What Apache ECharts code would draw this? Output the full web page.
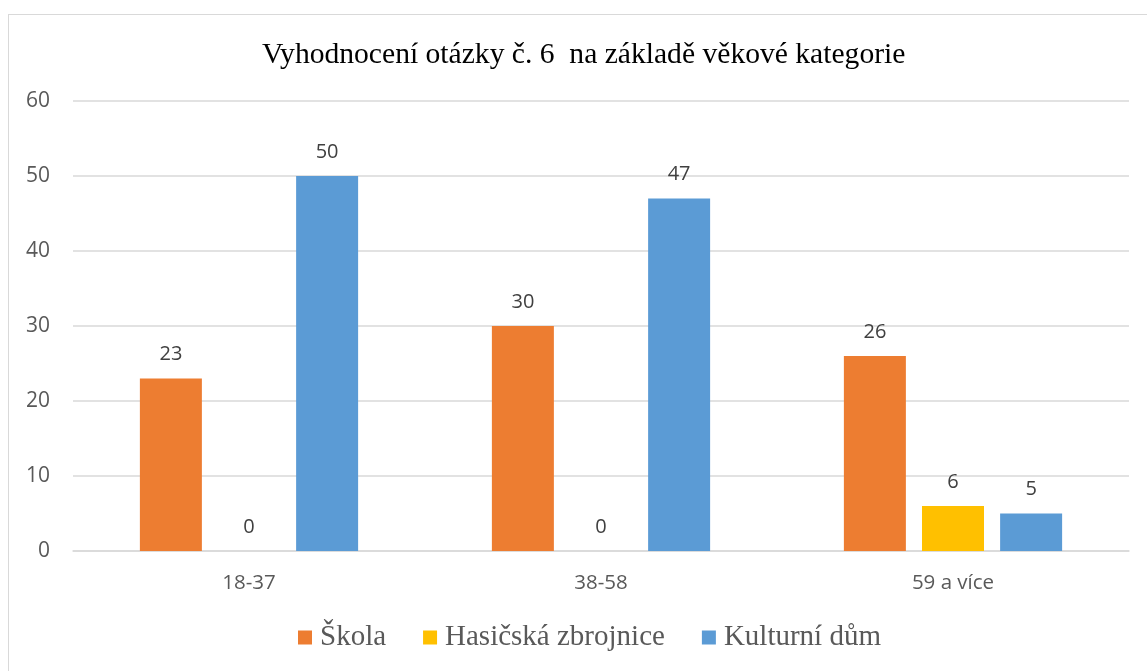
<!DOCTYPE html>
<html>
<head>
<meta charset="utf-8">
<script src="https://cdn.jsdelivr.net/npm/echarts@6/dist/echarts.min.js"></script>
<style>
  html, body { margin: 0; padding: 0; background: #fff; }
  #frame {
    position: absolute; left: 8px; top: 14px; width: 1160px; height: 680px;
    border: 1px solid #d9d9d9; box-sizing: border-box;
  }
  #chart { position: absolute; left: 0; top: 0; width: 1147px; height: 671px; }
</style>
</head>
<body>
<div id="frame"></div>
<div id="chart"></div>
<script>
// Age categories and answers per place
const categories = ['18-37', '38-58', '59 a více'];
const skola = [23, 30, 26];
const hasicska = [0, 0, 6];
const kulturni = [50, 47, 5];
const yTicks = { min: 0, max: 60, interval: 10 };

const chart = echarts.init(document.getElementById('chart'));

const sans = 'Open Sans, DejaVu Sans, sans-serif';
const serif = 'Liberation Serif, Times New Roman, serif';

const labelStyle = {
  show: true,
  position: 'top',
  distance: 14,
  color: '#404040',
  fontFamily: sans,
  fontSize: 20
};

const makeSeries = (name, data, color) => ({
  name: name,
  type: 'bar',
  data: data,
  barWidth: 62,
  barGap: '26%',
  itemStyle: { color: color },
  label: labelStyle
});

chart.setOption({
  animation: false,
  title: {
    text: 'Vyhodnocení otázky č. 6  na základě věkové kategorie',
    left: 257,
    top: 35,
    textStyle: {
      fontFamily: serif,
      fontWeight: 'normal',
      fontSize: 29.6,
      color: '#000'
    }
  },
  legend: {
    top: 623,
    left: 298,
    padding: 0,
    itemWidth: 14,
    itemHeight: 14,
    itemGap: 37,
    icon: 'rect',
    textStyle: {
      fontFamily: serif,
      fontSize: 29,
      color: '#595959',
      padding: [0, 0, 0, 3]
    },
    data: ['Škola', 'Hasičská zbrojnice', 'Kulturní dům']
  },
  grid: { left: 73, right: 18, top: 101, bottom: 120, containLabel: false },
  xAxis: {
    type: 'category',
    data: categories,
    axisLine: { lineStyle: { color: '#d9d9d9', width: 1.5 } },
    axisTick: { show: false },
    axisLabel: {
      color: '#595959',
      fontFamily: sans,
      fontSize: 20.5,
      margin: 22
    }
  },
  yAxis: {
    type: 'value',
    min: yTicks.min,
    max: yTicks.max,
    interval: yTicks.interval,
    axisLine: { show: false },
    axisTick: { show: false },
    splitLine: { lineStyle: { color: '#d9d9d9', width: 1.5 } },
    axisLabel: {
      color: '#595959',
      fontFamily: sans,
      fontSize: 21,
      margin: 23
    }
  },
  series: [
    makeSeries('Škola', skola, '#ed7d31'),
    makeSeries('Hasičská zbrojnice', hasicska, '#ffc000'),
    makeSeries('Kulturní dům', kulturni, '#5b9bd5')
  ]
});
</script>
</body>
</html>
